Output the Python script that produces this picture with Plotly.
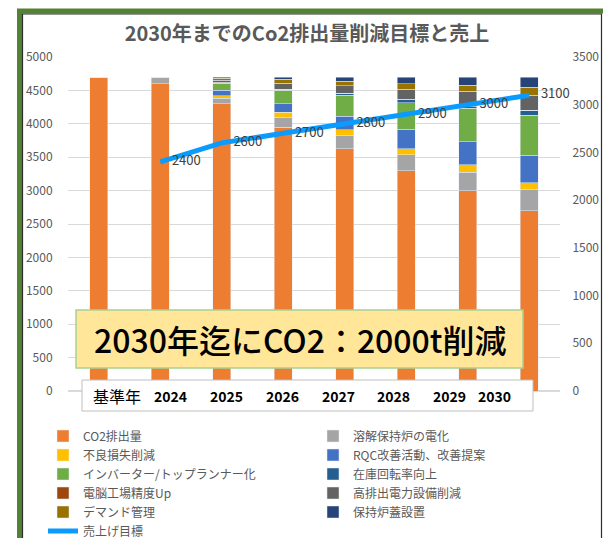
"""
CO2 reduction target chart - stacked reduction measures with sales target line
"""

import plotly.graph_objects as go

categories = ["基準年", "2024", "2025", "2026", "2027", "2028", "2029", "2030"]

co2 = [4700, 4600, 4300, 3950, 3630, 3300, 3000, 2700]
furnace_electric = [0, 100, 80, 150, 200, 240, 275, 320]
defect_loss = [0, 0, 40, 75, 80, 90, 110, 100]
rqc = [0, 0, 80, 125, 200, 285, 345, 410]
inverter = [0, 0, 100, 200, 320, 400, 500, 600]
inventory = [0, 0, 10, 15, 25, 45, 35, 70]
smart_factory = [0, 0, 10, 5, 5, 5, 5, 5]
high_power = [0, 0, 30, 90, 110, 155, 215, 225]
demand = [0, 0, 30, 55, 65, 80, 95, 120]
furnace_lid = [0, 0, 20, 35, 65, 100, 120, 150]

sales_target = [None, 2400, 2600, 2700, 2800, 2900, 3000, 3100]

series = [
    ('CO2排出量', co2, '#ED7D31'),
    ('溶解保持炉の電化', furnace_electric, '#A5A5A5'),
    ('不良損失削減', defect_loss, '#FFC000'),
    ('RQC改善活動、改善提案', rqc, '#4472C4'),
    ('インバーター/トップランナー化', inverter, '#70AD47'),
    ('在庫回転率向上', inventory, '#255E91'),
    ('電脳工場精度Up', smart_factory, '#9E480E'),
    ('高排出電力設備削減', high_power, '#636363'),
    ('デマンド管理', demand, '#997300'),
    ('保持炉蓋設置', furnace_lid, '#264478'),
]

W, H = 603, 538
L, R, T, B = 68, 43, 57, 147
FONT = 'Noto Sans CJK JP'


def px_x(px):
    return (px - L) / (W - L - R)


def px_y(py):
    return (H - B - py) / (H - T - B)


def create_co2_chart() -> go.Figure:
    fig = go.Figure()
    for name, vals, color in series:
        fig.add_trace(go.Bar(
            x=categories, y=vals, name=name, marker_color=color,
            hovertemplate=f'<b>{name}</b><br>%{{x}}: %{{y:,.0f}} t<extra></extra>'))
    fig.add_trace(go.Scatter(
        x=categories, y=sales_target, name='売上げ目標', yaxis='y2',
        mode='lines+text', line=dict(color='#0A9BFF', width=5), cliponaxis=False,
        text=[f'    {v}' if v else '' for v in sales_target], textposition='middle right',
        textfont=dict(size=13, color='#404040', family=FONT),
        hovertemplate='<b>売上げ目標</b><br>%{x}: %{y:,.0f}<extra></extra>'))

    tick_font = dict(size=12, color='#595959', family=FONT)
    fig.update_layout(
        width=W, height=H, barmode='stack', bargap=0.71,
        margin=dict(l=L, r=R, t=T, b=B, autoexpand=False),
        paper_bgcolor='white', plot_bgcolor='white',
        font=dict(family=FONT, color='#595959'),
        title=dict(text='2030年までのCo2排出量削減目標と売上', x=307 / W, xanchor='center',
                   y=1 - 34 / H, yanchor='middle',
                   font=dict(size=20, color='#595959', family=FONT, weight='bold')),
        xaxis=dict(showticklabels=False, showgrid=False, showline=False, ticks=''),
        yaxis=dict(range=[0, 5000], dtick=500, showgrid=True, gridcolor='#D9D9D9',
                   zeroline=True, zerolinecolor='#D9D9D9', ticks='outside', ticklen=12,
                   tickcolor='rgba(0,0,0,0)', tickfont=tick_font),
        yaxis2=dict(range=[0, 3500], dtick=500, overlaying='y', side='right', showgrid=False,
                    zeroline=False, ticks='outside', ticklen=9, tickcolor='rgba(0,0,0,0)',
                    tickfont=tick_font),
        legend=dict(orientation='h', x=px_x(43), xanchor='left', y=px_y(421.5), yanchor='top',
                    entrywidth=225, traceorder='normal', bgcolor='rgba(0,0,0,0)',
                    font=dict(size=12, color='#595959', family=FONT)),
        showlegend=True,
    )

    # chart frame
    fig.add_shape(type='rect', xref='paper', yref='paper', layer='above',
                  x0=px_x(19.5), x1=px_x(607), y0=px_y(11), y1=px_y(560),
                  line=dict(color='#548235', width=5))
    fig.add_shape(type='rect', xref='paper', yref='paper', layer='above',
                  x0=px_x(22.5), x1=px_x(601.5), y0=px_y(14), y1=px_y(560),
                  line=dict(color='#2B2B2B', width=1.2))

    # target banner
    fig.add_shape(type='rect', xref='paper', yref='paper', layer='above',
                  x0=px_x(76), x1=px_x(523), y0=px_y(310), y1=px_y(368),
                  fillcolor='#FFE699', line=dict(color='#A9D18E', width=1.5))
    fig.add_annotation(xref='paper', yref='paper', x=px_x(300), y=px_y(339),
                       xanchor='center', yanchor='middle',
                       text='2030年迄にCO2：2000t削減', showarrow=False,
                       font=dict(size=32, color='#000000', family=FONT, weight=500))

    # category label box
    fig.add_shape(type='rect', xref='paper', yref='paper', layer='above',
                  x0=px_x(82), x1=px_x(533), y0=px_y(380), y1=px_y(411),
                  fillcolor='white', line=dict(color='#BFBFBF', width=1))
    label_px = [117, 170.5, 226, 282, 338, 393.5, 449.5, 494]
    for i, (lab, px) in enumerate(zip(categories, label_px)):
        fig.add_annotation(xref='paper', yref='paper', x=px_x(px), y=px_y(396),
                           xanchor='center', yanchor='middle',
                           text=lab if i == 0 else f'<b>{lab}</b>', showarrow=False,
                           font=dict(size=16 if i == 0 else 14, color='#000000', family=FONT))
    return fig


fig = create_co2_chart()
fig.write_html("out.html", config={'displayModeBar': False},
               post_script="document.body.style.margin = '0';")
